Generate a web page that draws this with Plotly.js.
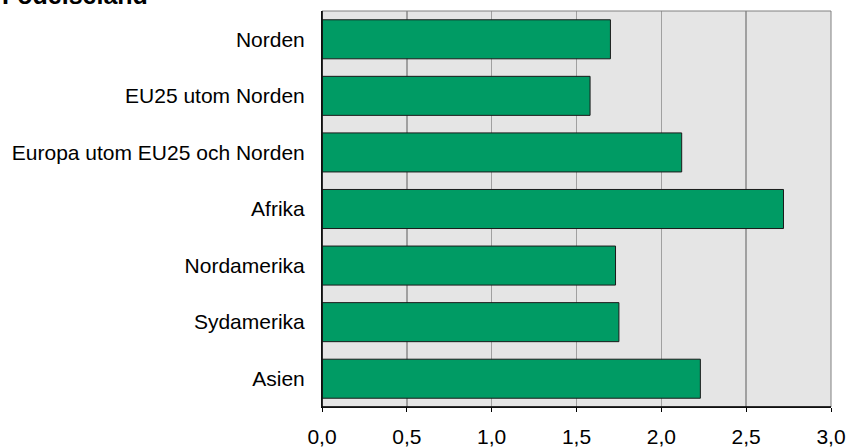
<!DOCTYPE html>
<html>
<head>
<meta charset="utf-8">
<script src="https://cdn.plot.ly/plotly-3.0.1.min.js"></script>
<style>html,body{margin:0;padding:0;background:#fff;}#chart{width:849px;height:447px;}</style>
</head>
<body>
<div id="chart"></div>
<script>
const categories = ["Norden", "EU25 utom Norden", "Europa utom EU25 och Norden", "Afrika", "Nordamerika", "Sydamerika", "Asien"];
const values = [1.70, 1.58, 2.12, 2.72, 1.73, 1.75, 2.23];
const tickVals = [0, 0.5, 1, 1.5, 2, 2.5, 3];
const tickText = ["0,0", "0,5", "1,0", "1,5", "2,0", "2,5", "3,0"];
const titleText = "Födelseland";

const font = "Liberation Sans, Arial, sans-serif";

const data = [{
  type: "bar",
  orientation: "h",
  y: categories,
  x: values,
  marker: {color: "#009B64", line: {color: "#1a1a1a", width: 1}},
  hoverinfo: "x+y"
}];

const layout = {
  width: 849, height: 447,
  margin: {l: 322, r: 18, t: 11, b: 40, pad: 0},
  paper_bgcolor: "#ffffff",
  plot_bgcolor: "#e5e5e5",
  showlegend: false,
  bargap: 0.31,
  font: {family: font, size: 21, color: "#000"},
  xaxis: {
    range: [0, 3],
    tickvals: tickVals, ticktext: tickText,
    showgrid: true, gridcolor: "#a0a0a0", gridwidth: 1.5,
    zeroline: false,
    showline: true, linecolor: "#000", linewidth: 1,
    ticks: "outside", ticklen: 4, tickcolor: "#000",
    ticklabelstandoff: 7,
    tickfont: {family: font, size: 21, color: "#000"},
    fixedrange: true
  },
  yaxis: {
    autorange: "reversed",
    showgrid: false, zeroline: false,
    showline: true, linecolor: "#000", linewidth: 1,
    ticks: "outside", ticklen: 12, tickcolor: "rgba(0,0,0,0)",
    tickfont: {family: font, size: 21, color: "#000"},
    fixedrange: true
  },
  shapes: [{
    type: "rect", xref: "paper", yref: "paper", x0: 0, x1: 1, y0: 0, y1: 1,
    line: {color: "#808080", width: 1}, fillcolor: "rgba(0,0,0,0)", layer: "above"
  }, {
    type: "line", xref: "paper", yref: "paper", x0: 0, x1: 0, y0: 0, y1: 1,
    line: {color: "#000", width: 1.5}, layer: "above"
  }, {
    type: "line", xref: "paper", yref: "paper", x0: 0, x1: 1, y0: 0, y1: 0,
    line: {color: "#000", width: 1.5}, layer: "above"
  }],
  annotations: [{
    text: "<b>" + titleText + "</b>",
    xref: "paper", yref: "paper",
    x: -322 / 509, xanchor: "left",
    y: 1.0, yanchor: "bottom",
    showarrow: false,
    font: {family: font, size: 25, color: "#000"}
  }]
};

Plotly.newPlot("chart", data, layout, {displayModeBar: false, staticPlot: true});
</script>
</body>
</html>
